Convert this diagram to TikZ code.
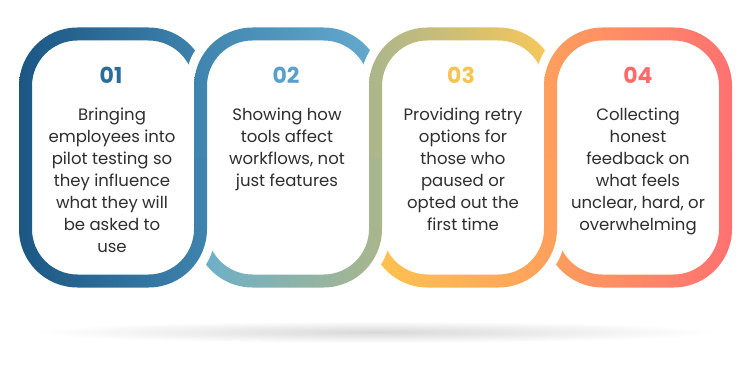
\documentclass[tikz,border=0pt]{standalone}
\usepackage{fontspec}
\setmainfont{Poppins}
\usetikzlibrary{calc}
\definecolor{bA}{HTML}{1C5784}
\definecolor{bB}{HTML}{3F84AE}
\definecolor{bC}{HTML}{65AACE}
\definecolor{bD}{HTML}{6AAFCB}
\definecolor{oA}{HTML}{AAB68C}
\definecolor{yA}{HTML}{F9C858}
\definecolor{yB}{HTML}{FFC34F}
\definecolor{oB}{HTML}{FF9F5D}
\definecolor{rA}{HTML}{FF7171}
\definecolor{txt}{HTML}{2E2E2E}
\definecolor{nA}{HTML}{2B6C99}
\definecolor{nB}{HTML}{5A9FC7}
\definecolor{nC}{HTML}{F5C451}
\definecolor{nD}{HTML}{FF6B6B}
% top piece with stub at top-right
\newcommand\TopStub[3]{%
 \pgfmathsetmacro\Lx{#1}\pgfmathsetmacro\Rx{#1+175}%
 \shade[left color=#2,right color=#3]
 (\Lx-6.5,207) -- (\Lx-6.5,279) arc[start angle=180,end angle=90,radius=58.5pt]
 -- (\Rx-52,337.5) arc[start angle=90,end angle=15,radius=58.5pt]
 -- ({\Rx-52+45.5*cos(15)},{279+45.5*sin(15)})
 arc[start angle=15,end angle=90,radius=45.5pt]
 -- (\Lx+52,324.5) arc[start angle=90,end angle=180,radius=45.5pt]
 -- (\Lx+6.5,207) -- cycle;}
\newcommand\TopFull[3]{%
 \pgfmathsetmacro\Lx{#1}\pgfmathsetmacro\Rx{#1+175}%
 \shade[left color=#2,right color=#3]
 (\Lx-6.5,207) -- (\Lx-6.5,279) arc[start angle=180,end angle=90,radius=58.5pt]
 -- (\Rx-52,337.5) arc[start angle=90,end angle=0,radius=58.5pt]
 -- (\Rx+6.5,207) -- (\Rx-6.5,207) -- (\Rx-6.5,279)
 arc[start angle=0,end angle=90,radius=45.5pt]
 -- (\Lx+52,324.5) arc[start angle=90,end angle=180,radius=45.5pt]
 -- (\Lx+6.5,207) -- cycle;}
\newcommand\BotFull[3]{%
 \pgfmathsetmacro\Lx{#1}\pgfmathsetmacro\Rx{#1+175}%
 \shade[left color=#2,right color=#3]
 (\Lx-6.5,207.5) -- (\Lx-6.5,136) arc[start angle=180,end angle=270,radius=58.5pt]
 -- (\Rx-52,77.5) arc[start angle=270,end angle=360,radius=58.5pt]
 -- (\Rx+6.5,207.5) -- (\Rx-6.5,207.5) -- (\Rx-6.5,136)
 arc[start angle=0,end angle=-90,radius=45.5pt]
 -- (\Lx+52,90.5) arc[start angle=270,end angle=180,radius=45.5pt]
 -- (\Lx+6.5,207.5) -- cycle;}
\newcommand\BotStub[3]{%
 \pgfmathsetmacro\Lx{#1}\pgfmathsetmacro\Rx{#1+175}%
 \shade[left color=#2,right color=#3]
 ({\Lx+52+58.5*cos(195)},{136+58.5*sin(195)}) arc[start angle=195,end angle=270,radius=58.5pt]
 -- (\Rx-52,77.5) arc[start angle=270,end angle=360,radius=58.5pt]
 -- (\Rx+6.5,207.5) -- (\Rx-6.5,207.5) -- (\Rx-6.5,136)
 arc[start angle=0,end angle=-90,radius=45.5pt]
 -- (\Lx+52,90.5) arc[start angle=270,end angle=195,radius=45.5pt]
 -- cycle;}
\newcommand\TopHalo[1]{%
 \pgfmathsetmacro\Lx{#1}%
 \draw[halo] (\Lx,207.5) -- (\Lx,279) arc[start angle=180,end angle=90,radius=52pt] -- (\Lx+60,331);}
\newcommand\BotHalo[1]{%
 \pgfmathsetmacro\Rx{#1+175}%
 \draw[halo] (\Rx-60,84) -- (\Rx-52,84) arc[start angle=270,end angle=360,radius=52pt] -- (\Rx,207.5);}
\begin{document}
\begin{tikzpicture}[x=1pt,y=1pt,
  halo/.style={white,line width=31pt,line cap=butt},
  numtxt/.style={font=\fontsize{22}{26}\selectfont\bfseries,anchor=base,inner sep=0pt},
  bodytxt/.style={font=\fontsize{16.5}{22}\selectfont,text=txt,align=center,anchor=north,inner sep=0pt}]
\useasboundingbox (0,0) rectangle (752,365);
\fill[white] (0,0) rectangle (752,365);
% shadow
\shade[inner color=black!15,outer color=white] (376,33) ellipse (340 and 11);
% bottom pieces
\BotStub{550.5}{oB}{rA}
\BotHalo{375.5}
\BotStub{375.5}{yB}{oB}
\BotHalo{200.5}
\BotStub{200.5}{bD}{oA}
\BotHalo{25.5}
\BotFull{25.5}{bA}{bB}
% top pieces
\TopStub{25.5}{bA}{bB}
\TopHalo{200.5}
\TopStub{200.5}{bB}{bC}
\TopHalo{375.5}
\TopStub{375.5}{oA}{yA}
\TopHalo{550.5}
\TopFull{550.5}{oB}{rA}
% numbers
\node[numtxt,text=nA] (n1) at (111,282) {01};
\node[numtxt,text=nB] (n2) at (286,282) {02};
\node[numtxt,text=nC] (n3) at (461,282) {03};
\node[numtxt,text=nD] (n4) at (638,282) {04};
% texts
\node[bodytxt] (t1) at (112,260.4) {\strut Bringing\\employees into\\pilot testing so\\they influence\\what they will\\be asked to\\use};
\node[bodytxt] (t2) at (287,260.4) {\strut Showing how\\tools affect\\workflows, not\\just features};
\node[bodytxt] (t3) at (463,260.4) {\strut Providing retry\\options for\\those who\\paused or\\opted out the\\first time};
\node[bodytxt] (t4) at (638,260.4) {\strut Collecting\\honest\\feedback on\\what feels\\unclear, hard, or\\overwhelming};
\end{tikzpicture}
\end{document}
